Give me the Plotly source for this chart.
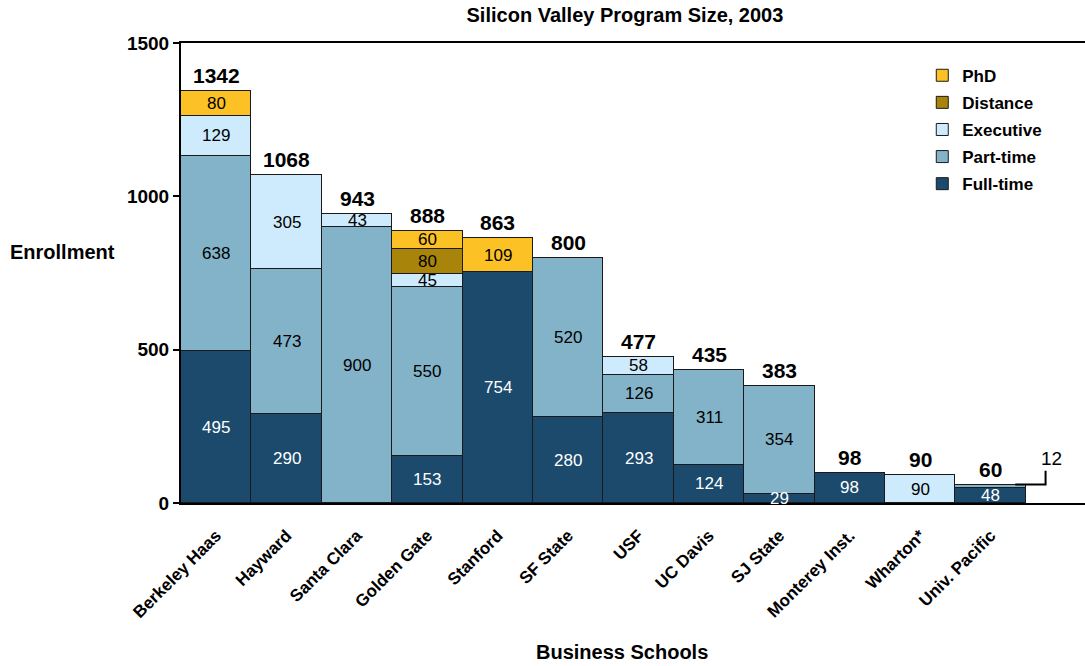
import plotly.graph_objects as go

categories = ["Berkeley Haas", "Hayward", "Santa Clara", "Golden Gate", "Stanford",
              "SF State", "USF", "UC Davis", "SJ State", "Monterey Inst.", "Wharton*", "Univ. Pacific"]
full_time = [495, 290, 0, 153, 754, 280, 293, 124, 29, 98, 0, 48]
part_time = [638, 473, 900, 550, 0, 520, 126, 311, 354, 0, 0, 12]
executive = [129, 305, 43, 45, 0, 0, 58, 0, 0, 0, 90, 0]
distance = [0, 0, 0, 80, 0, 0, 0, 0, 0, 0, 0, 0]
phd = [80, 0, 0, 60, 109, 0, 0, 0, 0, 0, 0, 0]
totals = [1342, 1068, 943, 888, 863, 800, 477, 435, 383, 98, 90, 60]
y_ticks = [0, 500, 1000, 1500]

FONT = "Liberation Sans, Arial, sans-serif"
series = [
    ("Full-time", full_time, "#1b4a6d", "white"),
    ("Part-time", part_time, "#82b3c8", "black"),
    ("Executive", executive, "#cdebfc", "black"),
    ("Distance", distance, "#a8850a", "black"),
    ("PhD", phd, "#fcc124", "black"),
]

fig = go.Figure()
for k, (name, vals, color, _) in enumerate(series):
    fig.add_trace(go.Bar(
        x=categories, y=vals, name=name, legendgroup=name, legendrank=100 - k,
        marker=dict(color=color, line=dict(color="#1a1a1a", width=1)),
        width=1.0, hoverinfo="skip",
    ))

annotations = []
base = [0] * len(categories)
for name, vals, color, tcolor in series:
    for i, v in enumerate(vals):
        if v > 0 and not (categories[i] == "Univ. Pacific" and name == "Part-time"):
            annotations.append(dict(
                x=categories[i], y=base[i] + v / 2, text=str(v), showarrow=False,
                font=dict(family=FONT, size=17, color=tcolor), xref="x", yref="y",
            ))
        base[i] += v

for i, t in enumerate(totals):
    annotations.append(dict(
        x=categories[i], y=t, text="<b>%d</b>" % t, showarrow=False,
        yanchor="bottom", yshift=2, xref="x", yref="y",
        font=dict(family=FONT, size=21, color="black"),
    ))

# callout for the small Univ. Pacific part-time segment
up = categories.index("Univ. Pacific")
up_total = totals[up]
annotations.append(dict(
    x=up + 0.87, y=up_total + 45, text=str(part_time[up]), showarrow=False,
    xref="x", yref="y", yanchor="bottom",
    font=dict(family=FONT, size=19, color="black"),
))
shapes = [dict(
    type="path", xref="x", yref="y",
    path="M %f,%f L %f,%f L %f,%f" % (up + 0.35, up_total, up + 0.78, up_total, up + 0.78, up_total + 45),
    line=dict(color="black", width=2),
)]

annotations.append(dict(
    x=(8 - 181) / 904, y=(503 - 252) / 460, xref="paper", yref="paper",
    xanchor="left", yanchor="middle", text="<b>Enrollment</b>", showarrow=False,
    font=dict(family=FONT, size=20, color="black"),
))
annotations.append(dict(
    x=(622 - 181) / 904, y=(503 - 652) / 460, xref="paper", yref="paper",
    xanchor="center", yanchor="middle", text="<b>Business Schools</b>", showarrow=False,
    font=dict(family=FONT, size=20, color="black"),
))

fig.update_layout(
    width=1085, height=666,
    margin=dict(l=181, r=0, t=43, b=163),
    paper_bgcolor="white", plot_bgcolor="white",
    barmode="stack", bargap=0,
    title=dict(text="<b>Silicon Valley Program Size, 2003</b>", x=0.576, xanchor="center",
               y=0.977, yanchor="middle", font=dict(family=FONT, size=20, color="black")),
    xaxis=dict(
        range=[-0.5, 12.34], showline=True, linecolor="black", linewidth=2, mirror=True,
        ticks="", tickangle=-45, showgrid=False, ticklabelstandoff=14,
        tickfont=dict(family=FONT, size=17, color="black", weight="bold"),
    ),
    yaxis=dict(
        range=[0, 1500], tickvals=y_ticks, ticktext=["<b>%d</b>" % v for v in y_ticks],
        showline=True, linecolor="black", linewidth=2, ticks="outside", ticklen=6,
        tickwidth=2, tickcolor="black", showgrid=False, zeroline=False,
        tickfont=dict(family=FONT, size=19, color="black"),
    ),
    legend=dict(
        x=0.82, y=0.968, xanchor="left", yanchor="top", traceorder="grouped",
        tracegroupgap=2,
        font=dict(family=FONT, size=17, color="black", weight="bold"), itemwidth=30,
        bgcolor="rgba(0,0,0,0)",
    ),
    annotations=annotations, shapes=shapes,
    font=dict(family=FONT),
)

fig.write_html("out.html")
